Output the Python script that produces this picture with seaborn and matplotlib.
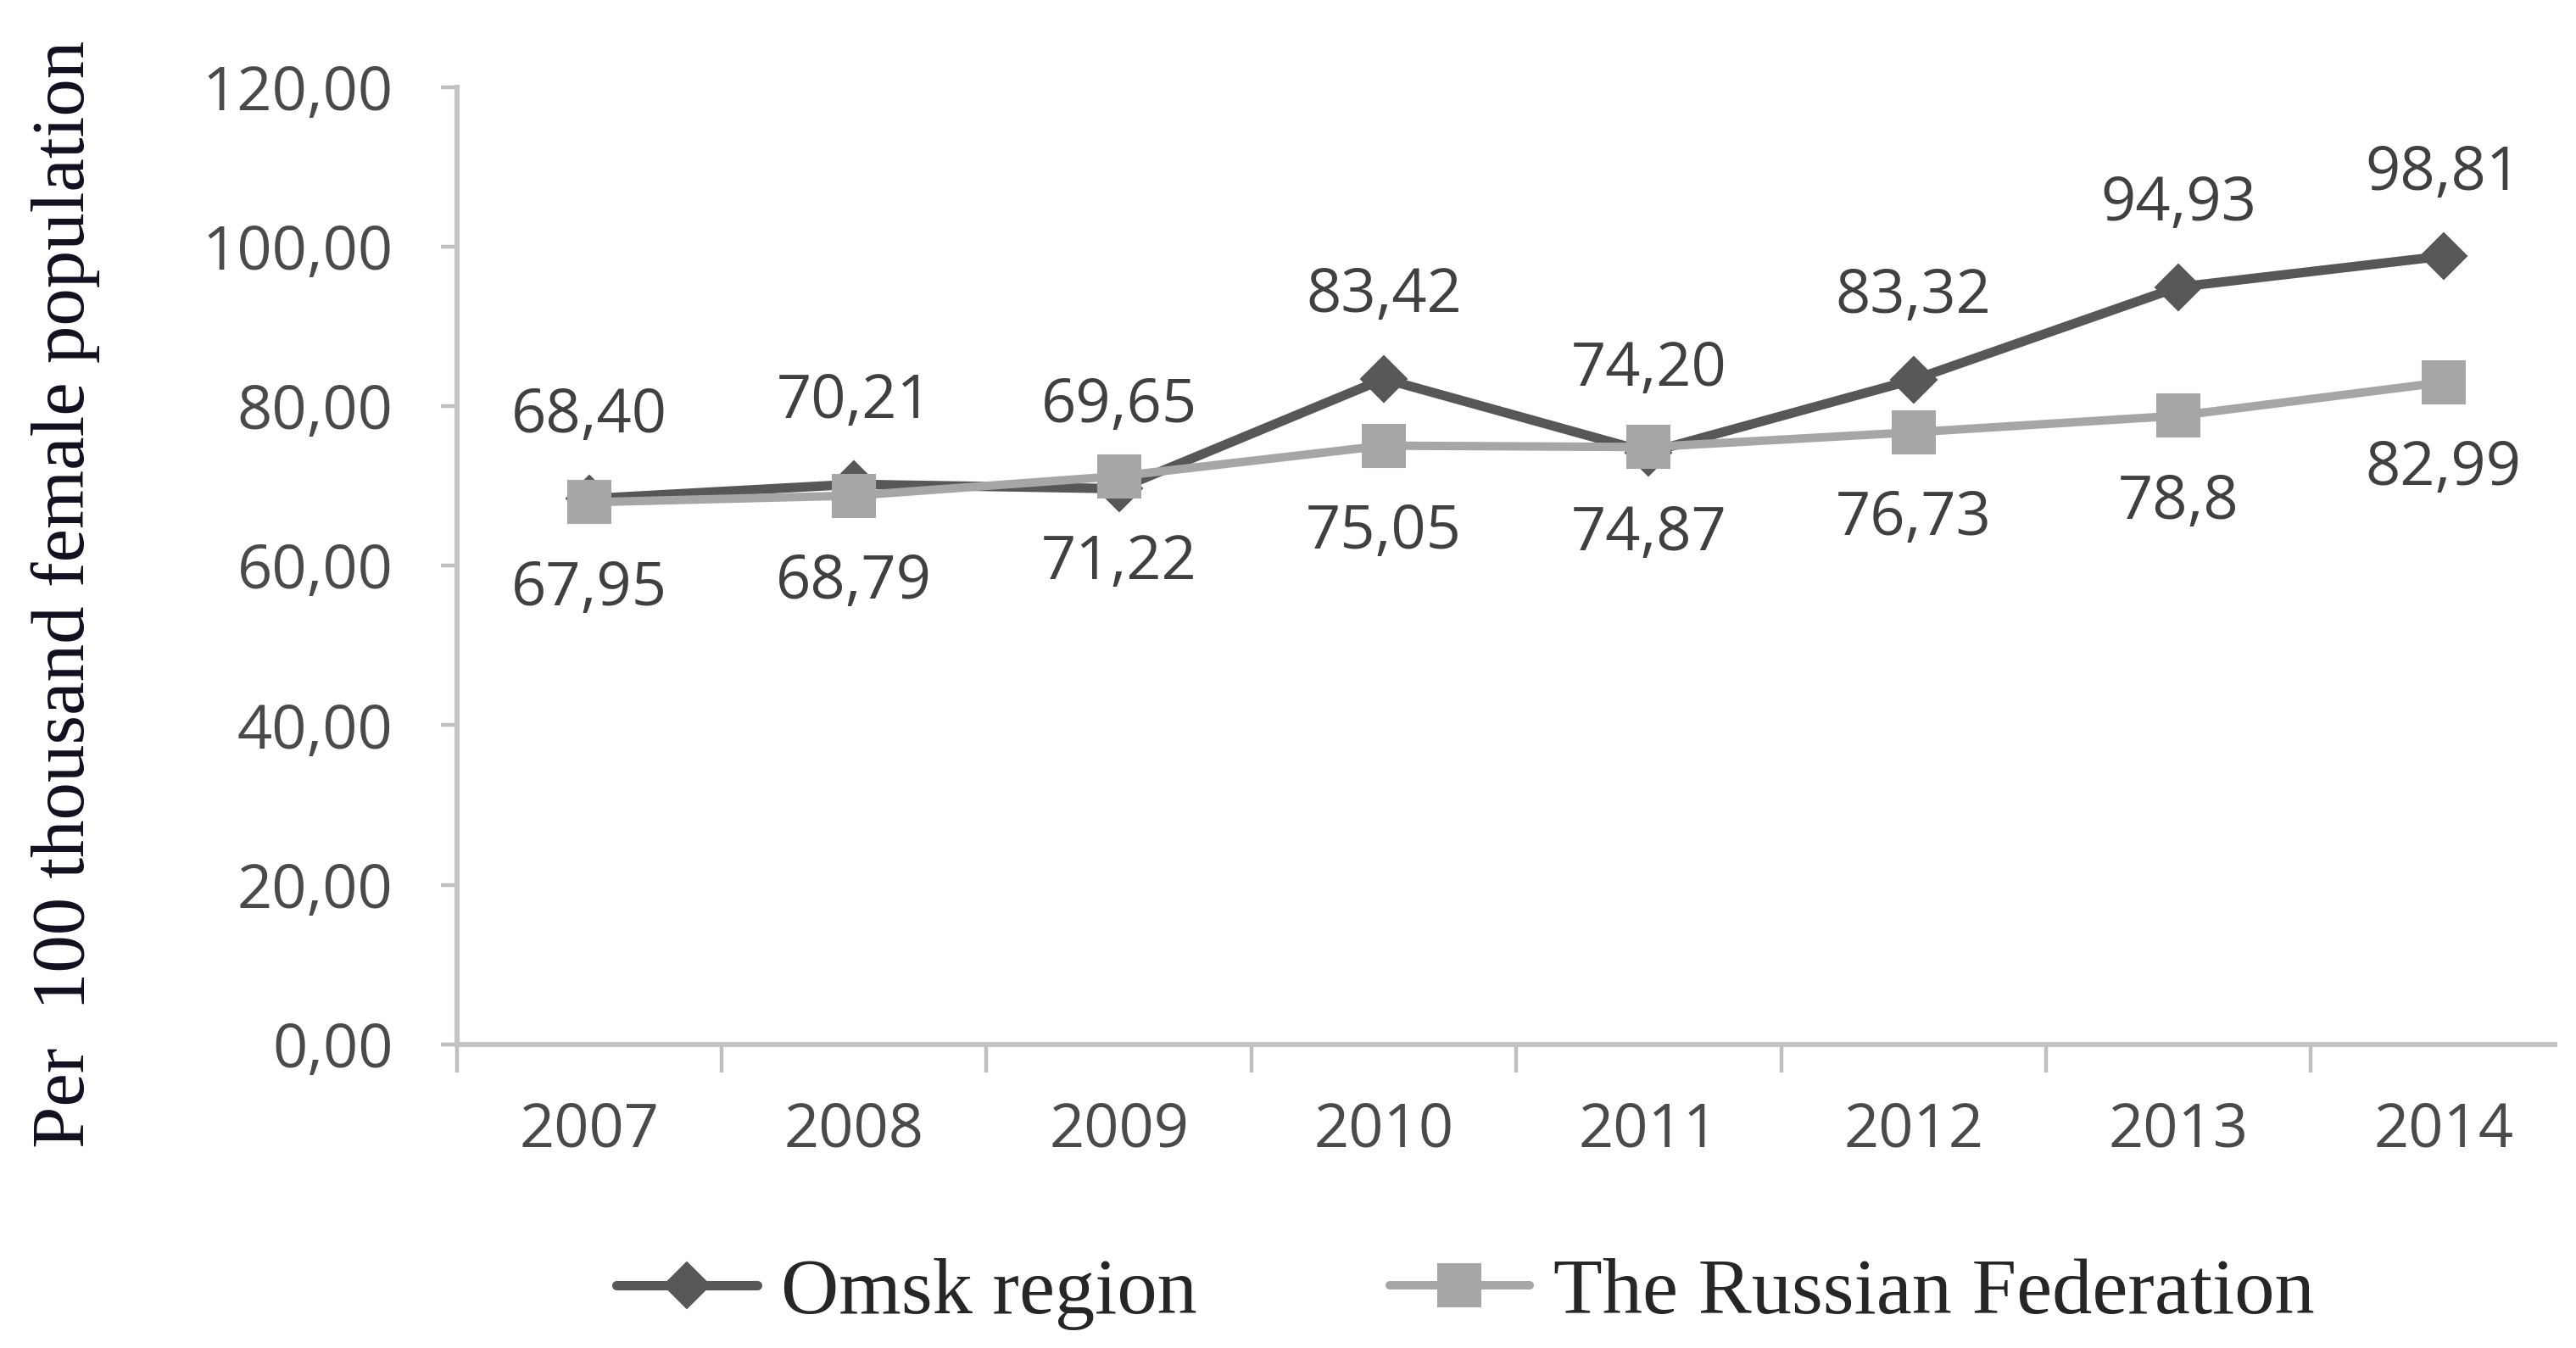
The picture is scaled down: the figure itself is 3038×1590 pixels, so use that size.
import matplotlib
matplotlib.use('Agg')
import matplotlib.pyplot as plt
import seaborn as sns
import pandas as pd
from matplotlib.ticker import FixedLocator, FuncFormatter

years = ['2007', '2008', '2009', '2010', '2011', '2012', '2013', '2014']
omsk = [68.40, 70.21, 69.65, 83.42, 74.20, 83.32, 94.93, 98.81]
russia = [67.95, 68.79, 71.22, 75.05, 74.87, 76.73, 78.8, 82.99]
omsk_labels = ['68,40', '70,21', '69,65', '83,42', '74,20', '83,32', '94,93', '98,81']
russia_labels = ['67,95', '68,79', '71,22', '75,05', '74,87', '76,73', '78,8', '82,99']
y_ticks = [0, 20, 40, 60, 80, 100, 120]

sns.set_style('white')
plt.rcParams['font.family'] = ['Open Sans', 'DejaVu Sans']

df = pd.DataFrame({'year': years, 'omsk': omsk, 'russia': russia})

fig = plt.figure(figsize=(15.19, 7.95), dpi=200)
ax = fig.add_axes([0.1773, 0.2253, 0.8144, 0.7101])

sns.lineplot(x='year', y='omsk', data=df, ax=ax, color='#575757', lw=4,
             marker='D', markersize=14, markeredgecolor='#575757',
             label='Omsk region', sort=False)
sns.lineplot(x='year', y='russia', data=df, ax=ax, color='#a6a6a6', lw=3.6,
             marker='s', markersize=18, markeredgecolor='#a6a6a6',
             label='The Russian Federation', sort=False)

for i, (v, t) in enumerate(zip(omsk, omsk_labels)):
    ax.annotate(t, (i, v), xytext=(0, 35), textcoords='offset points',
                ha='center', va='center', fontsize=26, color='#404040')
for i, (v, t) in enumerate(zip(russia, russia_labels)):
    ax.annotate(t, (i, v), xytext=(0, -37), textcoords='offset points',
                ha='center', va='center', fontsize=26, color='#404040')

ax.set_ylim(0, 120)
ax.set_xlim(-0.5, 7.42)
ax.set_yticks(y_ticks)
ax.yaxis.set_major_formatter(FuncFormatter(lambda v, p: f'{v:.2f}'.replace('.', ',')))
ax.xaxis.set_minor_locator(FixedLocator([i - 0.5 for i in range(len(years) + 1)]))
ax.tick_params(axis='x', which='major', length=0, pad=24, labelsize=26, labelcolor='#4a4a4a')
ax.tick_params(axis='x', which='minor', length=12, width=1.6, color='#bfbfbf', direction='out', bottom=True)
ax.tick_params(axis='y', length=7, width=1.6, color='#bfbfbf', direction='out', left=True,
               pad=20, labelsize=26, labelcolor='#4a4a4a')

for side in ['top', 'right']:
    ax.spines[side].set_visible(False)
for side in ['left', 'bottom']:
    ax.spines[side].set_color('#c4c4c4')
    ax.spines[side].set_linewidth(2.2)

ax.set_xlabel('')
ax.set_ylabel('Per  100 thousand female population', family=['Liberation Serif'],
              fontsize=32, color='#101020')
ax.yaxis.set_label_coords(-0.17, 0.47)

ax.legend_.remove()
handles, labels = ax.get_legend_handles_labels()
fig.legend(handles, labels, loc='center', bbox_to_anchor=(0.569, 0.04), ncol=2,
           frameon=False, prop={'family': 'Liberation Serif', 'size': 34},
           handlelength=1.75, handletextpad=0.3, columnspacing=2.4)

fig.savefig('out.png', dpi=200)
